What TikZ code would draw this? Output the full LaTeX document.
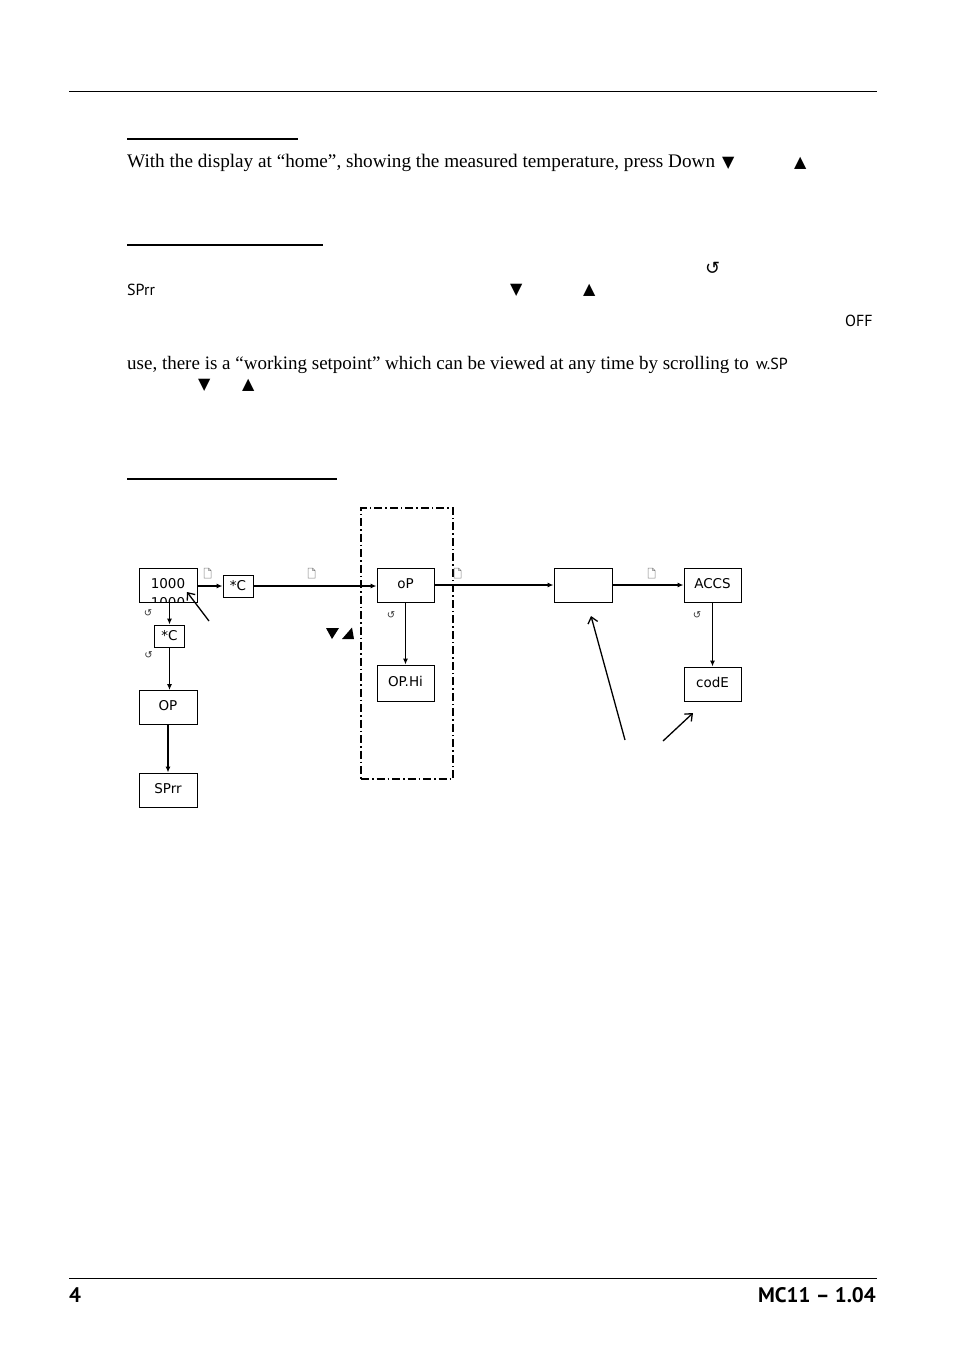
\documentclass[tikz,border=0pt]{standalone}
\usepackage{fontspec}
\setmainfont{Liberation Serif}
\newfontfamily\dvs{DejaVu Sans}
\newfontfamily\pts{PT Sans}
\usetikzlibrary{arrows.meta}
\begin{document}
\begin{tikzpicture}[x=1pt,y=-1pt,
  body/.style={anchor=base west,inner sep=0,font=\fontsize{19.2}{23}\selectfont},
  code/.style={anchor=base west,inner sep=0,font=\pts\fontsize{16}{19}\selectfont},
  sym/.style={anchor=base west,inner sep=0,font=\dvs\fontsize{16}{19}\selectfont},
  rot/.style={inner sep=0,font=\dvs\fontsize{10}{11}\selectfont,text=black!80},
  disp/.style={draw,line width=0.9pt,minimum width=58,minimum height=34,inner sep=0,
     font=\dvs\fontsize{13.5}{16}\selectfont},
  small/.style={draw,line width=0.9pt,minimum width=30,minimum height=22,inner sep=0,
     font=\dvs\fontsize{13.5}{16}\selectfont},
  conn/.style={line width=1.5pt,-{Latex[length=6pt,width=5pt]}},
  pointer/.style={line width=1.3pt,-{Straight Barb[length=6pt,width=10pt]}},
  rule/.style={line width=0.8pt},
  uline/.style={line width=2pt},
  pageicon/.pic={\draw[gray,line width=0.5pt] (0,0) -- (4.5,0) -- (7,2.5) -- (7,10) -- (0,10) -- cycle
     (4.5,0) -- (4.5,2.5) -- (7,2.5);}
]
\useasboundingbox[fill=white] (0,0) rectangle (954,1349);

% page rules
\draw[rule] (69,91) -- (877,91);
\draw[rule] (69,1278) -- (877,1278);
\node[anchor=base west,inner sep=0,font=\pts\bfseries\fontsize{21}{24}\selectfont] (pgno) at (69,1302) {4};
\node[anchor=base east,inner sep=0,font=\pts\bfseries\fontsize{21}{24}\selectfont] (docid) at (876,1302) {MC11 – 1.04};

% heading underlines
\draw[uline] (127,139) -- (298,139);
\draw[uline] (127,245) -- (323,245);
\draw[uline] (127,479) -- (337,479);

% body text
\node[body] (t1) at (127,167) {With the display at “home”, showing the measured temperature, press Down};
\node[sym] (t1d) at (722,167) {▼};
\node[sym] (t1u) at (794,167) {▲};

\node[sym,font=\dvs\fontsize{18}{20}\selectfont] (t2r) at (705,274) {↺};
\node[code] (t3a) at (127,295) {SPrr};
\node[sym] (t3d) at (510,294) {▼};
\node[sym] (t3u) at (583,294) {▲};
\node[code] (t4) at (845,326) {OFF};
\node[body,font=\fontsize{19}{23}\selectfont] (t5) at (127,369) {use, there is a “working setpoint” which can be viewed at any time by scrolling to};
\node[code] (t5b) at (756,369) {w.SP};
\node[sym] (t6d) at (198,389) {▼};
\node[sym] (t6u) at (242,389) {▲};

% dash-dot frame
\node[draw,line width=1.3pt,dash pattern=on 8pt off 3pt on 1.5pt off 3pt,
      minimum width=92,minimum height=271,inner sep=0] (frame) at (407,643.5) {};

% boxes
\node[disp] (home) at (168,585) {\raisebox{3.5pt}{1000}};
\begin{scope}
  \clip (home.south west) rectangle (home.north east);
  \node[anchor=north,inner sep=0,font=\dvs\fontsize{13.5}{16}\selectfont] (home2) at (168,597.5)
     {\raisebox{0pt}[\height][-5.5pt]{1000}};
\end{scope}
\node[small] (degA) at (238,586) {*C};
\node[small] (degB) at (169.5,636) {*C};
\node[disp] (opL) at (168,707.5) {\raisebox{3.5pt}{OP}};
\node[disp] (sprr) at (168,790) {\raisebox{3.5pt}{SPrr}};
\node[disp,minimum width=57] (op) at (405.5,585) {\raisebox{3.5pt}{oP}};
\node[disp,minimum width=57,minimum height=36] (ophi) at (405.5,683) {\raisebox{3pt}{OP.Hi}};
\node[disp] (blank) at (583,585) {};
\node[disp,minimum width=57] (accs) at (712.5,585) {\raisebox{3.5pt}{ACCS}};
\node[disp,minimum width=57] (code) at (712.5,684) {\raisebox{3.5pt}{codE}};

% horizontal connectors
\draw[conn] (home.east |- degA) -- (degA.west);
\draw[conn] (degA.east) -- (op.west |- degA);
\draw[conn] (op.east) -- (blank.west);
\draw[conn] (blank.east) -- (accs.west);

% vertical connectors
\draw[conn] (home.south -| degB) -- (degB.north);
\draw[conn] (degB.south) -- (opL.north -| degB);
\draw[conn] (opL.south) -- (sprr.north);
\draw[conn] (op.south) -- (ophi.north);
\draw[conn] (accs.south) -- (code.north);

% key icons
\pic at (204,568) {pageicon};
\pic at (308,568) {pageicon};
\pic at (454,568) {pageicon};
\pic at (648,568) {pageicon};
\node[rot] (r1) at (148,613) {↺};
\node[rot] (r2) at (148.5,655) {↺};
\node[rot] (r3) at (391,615) {↺};
\node[rot] (r4) at (697,615) {↺};

% down/up key glyphs
\fill (326,628) -- (339,628) -- (332,639) -- cycle;
\fill (342,639) -- (354,639) -- (352,627.5) -- cycle;

% pointer arrows
\coordinate (p1) at (209,621);
\coordinate (p1e) at (187,592);
\coordinate (p2) at (625,740);
\coordinate (p2e) at (591,616);
\coordinate (p3) at (663,741);
\coordinate (p3e) at (693,713);
\draw[pointer] (p1) -- (p1e);
\draw[pointer] (p2) -- (p2e);
\draw[pointer] (p3) -- (p3e);
\end{tikzpicture}
\end{document}
